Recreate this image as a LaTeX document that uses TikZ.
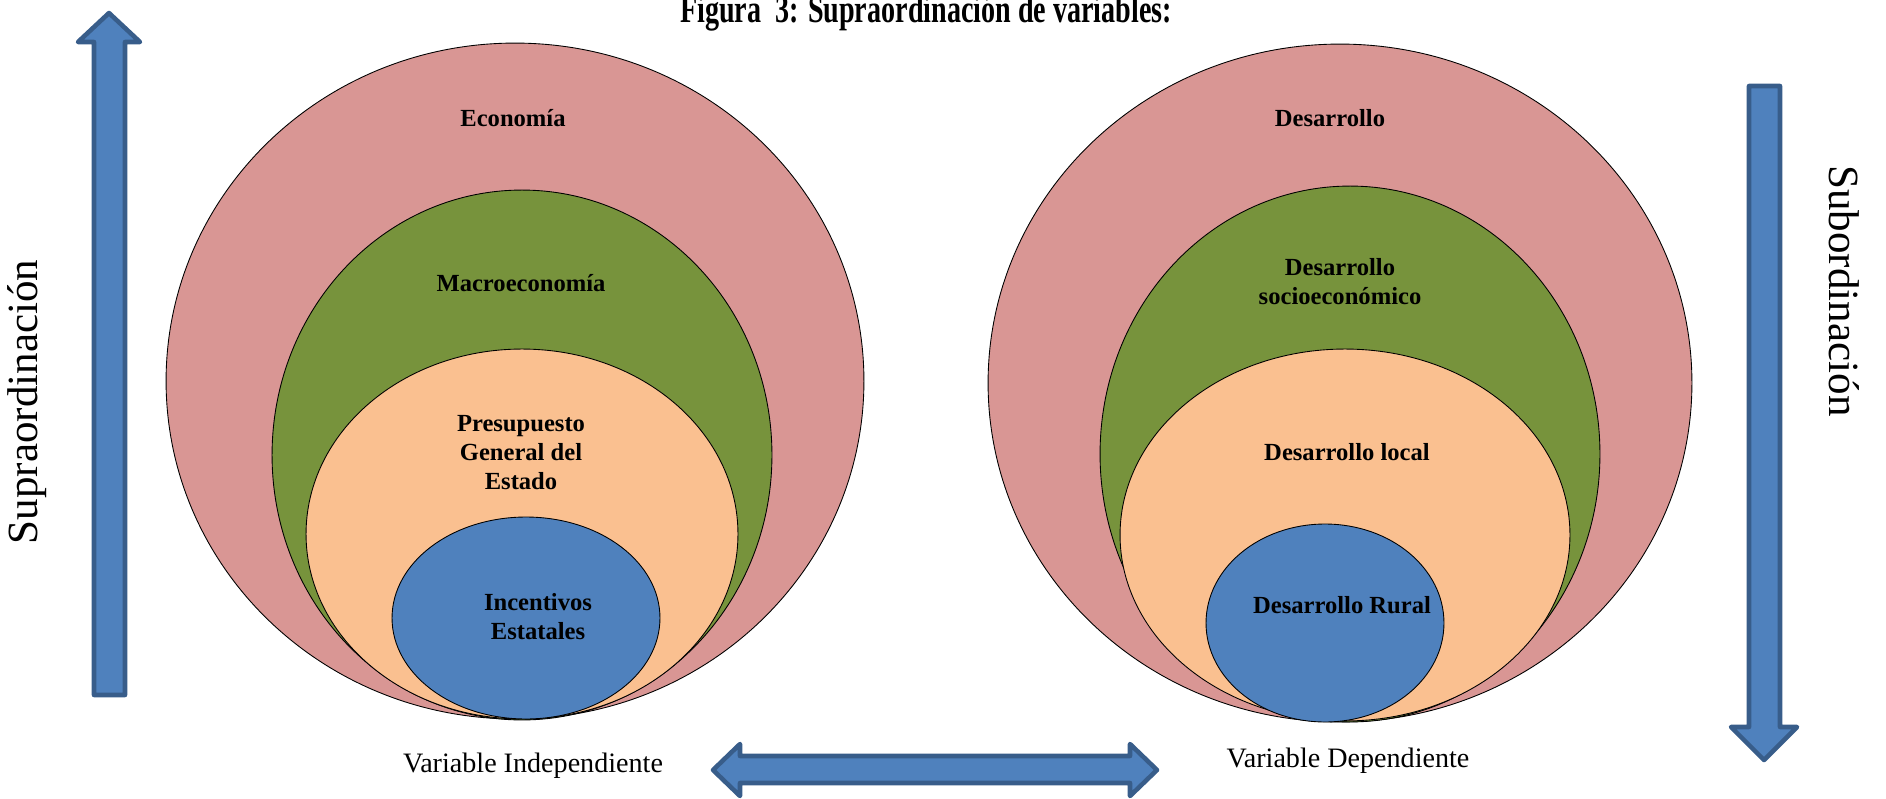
\documentclass[tikz,border=0pt]{standalone}
\usepackage{fontspec}
\setmainfont{Liberation Serif}
\usetikzlibrary{shapes.geometric}

\definecolor{rosa}{HTML}{D99694}
\definecolor{verde}{HTML}{77933C}
\definecolor{naranja}{HTML}{FAC090}
\definecolor{azul}{HTML}{4F81BD}
\definecolor{azulborde}{HTML}{385D8A}

\tikzset{
	oval/.style={ellipse, draw=black, line width=0.5pt, inner sep=0pt},
	lbl/.style={font=\bfseries\fontsize{14}{16.5}\selectfont, align=center},
	flecha/.style={fill=azul, draw=azulborde, line width=2.6pt, line join=round}
}

\begin{document}
\begin{tikzpicture}[x=0.02cm, y=-0.02cm]
	\useasboundingbox (0,0) rectangle (1886,798);
	\node[anchor=base, yscale=1.4, transform shape, font=\bfseries\fontsize{16}{18}\selectfont] (titulo) at (926,22)
		{Figura\ \ 3: Supraordinación de variables:};

	% variable independiente
	\node[oval, fill=rosa, minimum width=13.96cm, minimum height=13.52cm] (eco) at (515,381) {};
	\node[oval, fill=verde, minimum width=10cm, minimum height=10.6cm] (macro) at (522,455) {};
	\node[oval, fill=naranja, minimum width=8.64cm, minimum height=7.4cm] (pge) at (522,534) {};
	\node[oval, fill=azul, minimum width=5.36cm, minimum height=4.04cm] (inc) at (526,618) {};
	\node[lbl] (t1) at (513,118) {Economía};
	\node[lbl] (t2) at (521,283) {Macroeconomía};
	\node[lbl] (t3) at (521,453) {Presupuesto\\General del\\Estado};
	\node[lbl] (t4) at (538,617) {Incentivos\\Estatales};

	% variable dependiente
	\node[oval, fill=rosa, minimum width=14.08cm, minimum height=13.56cm] (des) at (1340,383) {};
	\node[oval, fill=verde, minimum width=10cm, minimum height=10.72cm] (soc) at (1350,454) {};
	\node[oval, fill=naranja, minimum width=9cm, minimum height=7.44cm] (loc) at (1345,535) {};
	\node[oval, fill=azul, minimum width=4.76cm, minimum height=3.96cm] (rur) at (1325,623) {};
	\node[lbl] (r1) at (1330,118) {Desarrollo};
	\node[lbl] (r2) at (1340,282) {Desarrollo\\socioeconómico};
	\node[lbl] (r3) at (1347,452) {Desarrollo local};
	\node[lbl] (r4) at (1342,605) {Desarrollo Rural};

	% flechas
	\draw[flecha] (109,13) -- (140,42) -- (125,42) -- (125,695) -- (94,695)
		-- (94,42) -- (78,42) -- cycle;
	\draw[flecha] (1764,760) -- (1797,727) -- (1780,727) -- (1780,86) -- (1749,86)
		-- (1749,727) -- (1731,727) -- cycle;
	\draw[flecha] (713,770) -- (740,744) -- (740,756) -- (1130,756) -- (1130,744)
		-- (1157,770) -- (1130,796) -- (1130,783) -- (740,783) -- (740,796) -- cycle;

	\node[rotate=90, font=\fontsize{24.5}{28}\selectfont] (supra) at (27,402) {Supraordinación};
	\node[rotate=-90, font=\fontsize{24.5}{28}\selectfont] (sub) at (1844,291) {Subordinación};
	\node[font=\fontsize{16}{18}\selectfont] (vi) at (533,766) {Variable Independiente};
	\node[font=\fontsize{16}{18}\selectfont] (vd) at (1348,761) {Variable Dependiente};
\end{tikzpicture}
\end{document}
